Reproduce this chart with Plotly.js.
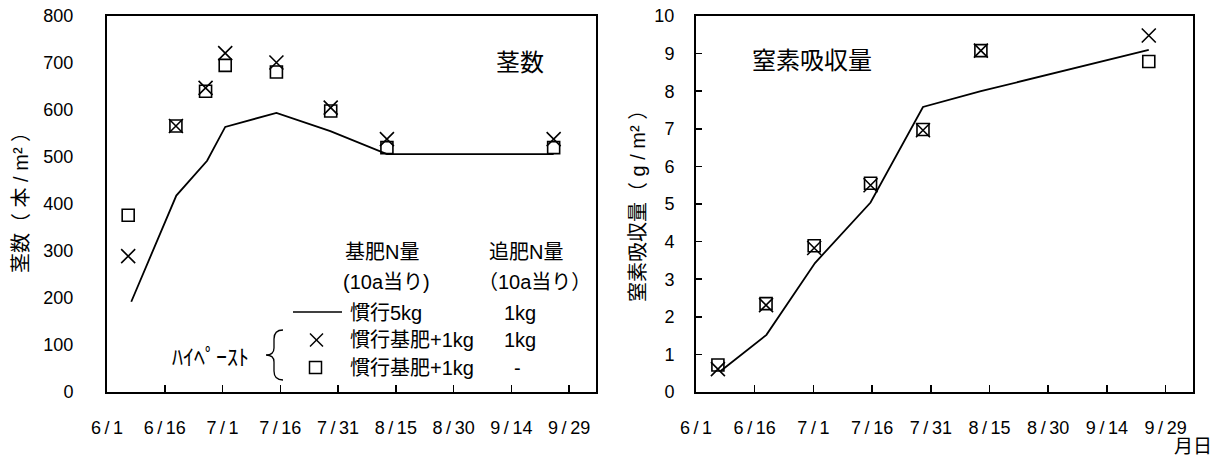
<!DOCTYPE html>
<html>
<head>
<meta charset="utf-8">
<script src="https://cdn.plot.ly/plotly-3.0.1.min.js"></script>
<style>html,body{margin:0;padding:0;background:#fff;}#chart{width:1222px;height:457px;}</style>
</head>
<body>
<div id="chart"></div>
<script>
// ---- data ----
const dayTicks = [0, 15, 30, 45, 60, 75, 90, 105, 120];
const dateLabels = ['6\u2009/\u20091', '6\u2009/\u200916', '7\u2009/\u20091', '7\u2009/\u200916', '7\u2009/\u200931',
                    '8\u2009/\u200915', '8\u2009/\u200930', '9\u2009/\u200914', '9\u2009/\u200929'];

// 茎数 (本/m2)
const stemLineDays = [6.3, 18, 26, 30.7, 44, 58, 72.7, 116];
const stemConventional = [192, 418, 492, 564, 594, 555, 506, 506];
const stemMarkDays = [5.5, 17.9, 25.6, 30.7, 44, 58.1, 72.7, 116];
const stemHipasteTop = [289, 566, 647, 721, 701, 605, 538, 538];
const stemHipasteNoTop = [376, 566, 640, 695, 681, 598, 520, 520];

// 窒素吸収量 (g/m2)
const nLineDays = [6.3, 18, 30.4, 44.6, 58, 72.8, 115.7];
const nConventional = [0.56, 1.52, 3.43, 5.04, 7.58, 8.0, 9.1];
const nMarkDays = [5.6, 17.9, 30.2, 44.6, 58, 72.8, 115.7];
const nHipasteTop = [0.61, 2.31, 3.83, 5.5, 6.96, 9.08, 9.48];
const nHipasteNoTop = [0.72, 2.35, 3.89, 5.55, 6.98, 9.08, 8.79];

// ---- layout helpers ----
const W = 1222, H = 457;
const M = {l: 107, r: 29, t: 16, b: 65};
const PW = W - M.l - M.r, PH = H - M.t - M.b;
const px = x => (x - M.l) / PW;
const py = y => (H - M.b - y) / PH;
const FONT = 'Liberation Sans, Arial, Noto Sans CJK JP, sans-serif';

const crossMarker = {symbol: 'x-thin-open', size: 14, color: '#000', line: {width: 1.6, color: '#000'}};
const squareMarker = {symbol: 'square-open', size: 12, color: '#000', line: {width: 1.6, color: '#000'}};

const traces = [
  {x: stemLineDays, y: stemConventional, mode: 'lines', line: {color: '#000', width: 1.8}, xaxis: 'x', yaxis: 'y'},
  {x: stemMarkDays, y: stemHipasteTop, mode: 'markers', marker: crossMarker, xaxis: 'x', yaxis: 'y'},
  {x: stemMarkDays, y: stemHipasteNoTop, mode: 'markers', marker: squareMarker, xaxis: 'x', yaxis: 'y'},
  {x: nLineDays, y: nConventional, mode: 'lines', line: {color: '#000', width: 1.8}, xaxis: 'x2', yaxis: 'y2'},
  {x: nMarkDays, y: nHipasteTop, mode: 'markers', marker: crossMarker, xaxis: 'x2', yaxis: 'y2'},
  {x: nMarkDays, y: nHipasteNoTop, mode: 'markers', marker: squareMarker, xaxis: 'x2', yaxis: 'y2'}
];

const xBase = {
  range: [0, 127], tickmode: 'array', tickvals: dayTicks, ticktext: dateLabels,
  ticks: 'inside', ticklen: 7, tickwidth: 1.5, tickcolor: '#000',
  showline: true, linecolor: '#000', linewidth: 2, mirror: true,
  showgrid: false, zeroline: false, ticklabelstandoff: 18,
  tickfont: {family: FONT, size: 18, color: '#000'}, fixedrange: true
};

const layout = {
  width: W, height: H, margin: M, showlegend: false,
  paper_bgcolor: '#fff', plot_bgcolor: '#fff',
  font: {family: FONT, color: '#000'},
  xaxis: Object.assign({}, xBase, {domain: [0, px(596)], anchor: 'y'}),
  xaxis2: Object.assign({}, xBase, {domain: [px(696), 1], anchor: 'y2'}),
  yaxis: {
    range: [0, 800], dtick: 100, anchor: 'x', ticks: '', showline: true, linecolor: '#000', linewidth: 2,
    mirror: true, showgrid: false, zeroline: false, ticklabelstandoff: 28,
    tickfont: {family: FONT, size: 18, color: '#000'}, fixedrange: true
  },
  yaxis2: {
    range: [0, 10], dtick: 1, anchor: 'x2', ticks: 'inside', ticklen: 6, tickwidth: 1.5, tickcolor: '#000',
    showline: true, linecolor: '#000', linewidth: 2, mirror: true, showgrid: false, zeroline: false,
    ticklabelstandoff: 16, tickfont: {family: FONT, size: 18, color: '#000'}, fixedrange: true
  },
  annotations: [],
  shapes: []
};

function txt(text, x, y, size, opts) {
  layout.annotations.push(Object.assign({
    text: text, xref: 'paper', yref: 'paper', x: px(x), y: py(y), xanchor: 'left', yanchor: 'middle',
    showarrow: false, font: {family: FONT, size: size, color: '#000'}
  }, opts || {}));
}

// titles
txt('茎数', 520, 62, 24, {xanchor: 'center'});
txt('窒素吸収量', 812, 60, 24, {xanchor: 'center'});
txt('茎数（ 本 / m² ）', 21, 198, 20, {xanchor: 'center', textangle: -90});
txt('窒素吸収量（ g / m² ）', 638, 201, 20, {xanchor: 'center', textangle: -90});
txt('月日', 1193, 447, 19, {xanchor: 'center'});

// legend block
txt('基肥N量', 343, 252, 20);
txt('追肥N量', 487, 252, 20);
txt('(10a当り)', 341, 282, 20);
txt('（10a当り）', 476, 282, 20);
txt('慣行5kg', 348, 313, 20);
txt('1kg', 502, 313, 20);
txt('慣行基肥+1kg', 348, 340, 20);
txt('1kg', 502, 340, 20);
txt('慣行基肥+1kg', 348, 368, 20);
txt('-', 512, 368, 20);
txt('ﾊｲﾍﾟｰｽﾄ', 170, 357, 22);

const blk = {color: '#000', width: 1.5};
function seg(x0, y0, x1, y1) {
  layout.shapes.push({type: 'line', xref: 'paper', yref: 'paper', x0: px(x0), y0: py(y0), x1: px(x1), y1: py(y1), line: blk});
}
seg(293, 312, 342, 312);
seg(310, 333.5, 323, 346.5);
seg(310, 346.5, 323, 333.5);
layout.shapes.push({type: 'rect', xref: 'paper', yref: 'paper', x0: px(309.5), y0: py(361.5), x1: px(321.5), y1: py(373.5), line: blk});
// curly brace
const bracePts = [
  ['M', 283, 330], ['Q', 274, 330, 274, 339], ['L', 274, 348], ['Q', 274, 355, 266, 355],
  ['Q', 274, 355, 274, 362], ['L', 274, 371], ['Q', 274, 380, 283, 380]
];
const bracePath = bracePts.map(p => {
  let s = p[0];
  for (let i = 1; i < p.length; i += 2) s += ' ' + px(p[i]) + ',' + py(p[i + 1]);
  return s;
}).join(' ');
layout.shapes.push({type: 'path', xref: 'paper', yref: 'paper', path: bracePath, line: {color: '#000', width: 1.3}});

Plotly.newPlot('chart', traces, layout, {displayModeBar: false, staticPlot: true});
</script>
</body>
</html>
